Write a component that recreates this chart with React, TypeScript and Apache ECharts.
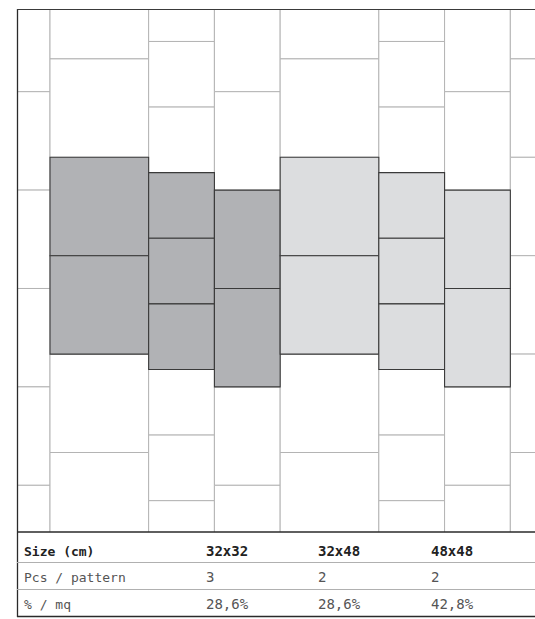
import React, { useEffect, useRef } from "react";
import * as echarts from "echarts";

// Tiling pattern, all measures in cm (x to the right, y downwards)
const columnLeft = [-32, 0, 48, 80, 112, 160, 192, 224];
const columnWidth = [32, 48, 32, 32, 48, 32, 32, 48];
const breaks48x48 = [-96, -48, 0, 48, 96, 144, 192];
const breaks32x32 = [-88.5, -56.5, -24.5, 7.5, 39.5, 71.5, 103.5, 135.5, 167.5, 199.5];
const breaks32x48 = [-80, -32, 16, 64, 112, 160, 208];
const columnBreaks = [breaks32x48, breaks48x48, breaks32x32, breaks32x48, breaks48x48, breaks32x32, breaks32x48, breaks48x48];
// highlighted range per column: [from, to, shade] (0 = none, 1 = dark, 2 = light)
const columnHighlight: [number, number, number][] = [
  [0, 0, 0],
  [0, 96, 1],
  [7.5, 103.5, 1],
  [16, 112, 1],
  [0, 96, 2],
  [7.5, 103.5, 2],
  [16, 112, 2],
  [0, 0, 0],
];

// Table
const headerLabel = "Size (cm)";
const sizes = ["32x32", "32x48", "48x48"];
const rowLabels = ["Pcs / pattern", "% / mq"];
const pcsPerPattern = ["3", "2", "2"];
const percentPerSqm = ["28,6%", "28,6%", "42,8%"];

const plainTiles: number[][] = [];
const shadedTiles: number[][] = [];
columnLeft.forEach((x0, i) => {
  const b = columnBreaks[i];
  const [hf, ht, shade] = columnHighlight[i];
  for (let j = 0; j < b.length - 1; j++) {
    const y0 = b[j];
    const y1 = b[j + 1];
    const isHi = shade > 0 && y0 >= hf && y1 <= ht;
    const item = [x0, y0, columnWidth[i], y1 - y0, isHi ? shade : 0];
    if (isHi) shadedTiles.push(item);
    else plainTiles.push(item);
  }
});

const FILL = ["#ffffff", "#b1b2b5", "#dcdddf"];

function renderTile(params: any, api: any) {
  const x = api.value(0);
  const y = api.value(1);
  const w = api.value(2);
  const h = api.value(3);
  const s = api.value(4);
  const p0 = api.coord([x, y]);
  const p1 = api.coord([x + w, y + h]);
  return {
    type: "rect",
    shape: { x: p0[0], y: p0[1], width: p1[0] - p0[0], height: p1[1] - p0[1] },
    style: {
      fill: FILL[s],
      stroke: s > 0 ? "#3a3a3a" : "#b4b4b4",
      lineWidth: s > 0 ? 1.1 : 1,
    },
  };
}

export default function App() {
  const ref = useRef<HTMLDivElement>(null);
  useEffect(() => {
    if (!ref.current) return;
    const chart = echarts.init(ref.current, undefined, { renderer: "svg" });
    const font = "'DejaVu Sans Mono', 'Liberation Mono', monospace";
    const colX = [206, 318, 431];
    const rowY = [551, 577, 604];
    const graphics: any[] = [];
    const line = (x1: number, y1: number, x2: number, y2: number, stroke: string, w = 1) =>
      graphics.push({ type: "line", z: 100, shape: { x1, y1, x2, y2 }, style: { stroke, lineWidth: w } });
    line(17.5, 9, 17.5, 617, "#2a2a2a", 1.3);
    line(17, 9.5, 535, 9.5, "#3a3a3a", 1);
    line(17, 532, 535, 532, "#2a2a2a", 1.3);
    line(17, 562.5, 535, 562.5, "#b0b0b0", 1);
    line(17, 589.5, 535, 589.5, "#b0b0b0", 1);
    line(17, 616.5, 535, 616.5, "#2a2a2a", 1.3);
    const text = (t: string, x: number, y: number, bold: boolean, color: string, size: number) =>
      graphics.push({
        type: "text",
        z: 100,
        x,
        y,
        style: { text: t, fill: color, font: `${bold ? "bold " : ""}${size}px ${font}`, verticalAlign: "middle", align: "left" },
      });
    text(headerLabel, 24, rowY[0], true, "#222222", 13);
    text(rowLabels[0], 24, rowY[1], false, "#555555", 13);
    text(rowLabels[1], 24, rowY[2], false, "#555555", 13);
    sizes.forEach((s, i) => text(s, colX[i], rowY[0], true, "#222222", 14));
    pcsPerPattern.forEach((s, i) => text(s, colX[i], rowY[1], false, "#555555", 14));
    percentPerSqm.forEach((s, i) => text(s, colX[i], rowY[2], false, "#555555", 14));

    chart.setOption({
      animation: false,
      grid: { left: 17, top: 9, width: 518, height: 523 },
      xAxis: { type: "value", min: -16.06, max: 236, show: false },
      yAxis: { type: "value", min: -72.34, max: 182.78, inverse: true, show: false },
      series: [
        { type: "custom", data: plainTiles, renderItem: renderTile, encode: { x: 0, y: 1 }, clip: true, z: 2, silent: true },
        { type: "custom", data: shadedTiles, renderItem: renderTile, encode: { x: 0, y: 1 }, clip: true, z: 3, silent: true },
      ],
      graphic: graphics,
    });
    return () => chart.dispose();
  }, []);
  return <div ref={ref} style={{ position: "fixed", left: 0, top: 0, width: 535, height: 619, background: "#fff" }} />;
}
